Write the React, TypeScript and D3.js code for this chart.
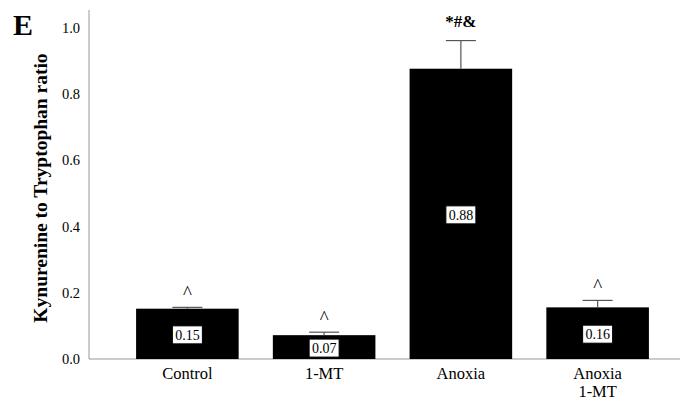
import React from "react";
import * as d3 from "d3";

const categories = ["Control", "1-MT", "Anoxia", "Anoxia\n1-MT"];
const values = [0.152, 0.072, 0.877, 0.156];
const errors = [0.004, 0.009, 0.085, 0.021];
const valueLabels = ["0.15", "0.07", "0.88", "0.16"];
const sigLabels = ["^", "^", "*#&", "^"];
const yTicks = [0.0, 0.2, 0.4, 0.6, 0.8, 1.0];

export default function App() {
  const W = 684, H = 400;
  const axisX = 89, baseY = 359;
  const y = d3.scaleLinear().domain([0, 1]).range([baseY, 28]);
  const x = d3.scaleBand().domain(categories).range([119, 666]).paddingInner(0.25).paddingOuter(0.125);
  const serif = "'Liberation Serif', 'Times New Roman', serif";
  return (
    <svg width={W} height={H} style={{ position: "absolute", left: 0, top: 0, background: "#fff" }} fontFamily={serif}>
      <text x={13} y={35} fontSize={30} fontWeight="bold">E</text>
      <text transform={`translate(47,188) rotate(-90)`} textAnchor="middle" fontSize={19.5} fontWeight="bold">Kynurenine to Tryptophan ratio</text>
      {yTicks.map(t => (
        <text key={t} x={80} y={y(t)} dy="0.35em" textAnchor="end" fontSize={14.5}>{t.toFixed(1)}</text>
      ))}
      <line x1={axisX} x2={axisX} y1={10} y2={baseY} stroke="#999" strokeWidth={1} />
      <line x1={axisX} x2={680} y1={baseY} y2={baseY} stroke="#999" strokeWidth={1} />
      {categories.map((c, i) => {
        const bx = x(c)!;
        const bw = x.bandwidth();
        const cx = bx + bw / 2;
        const top = y(values[i]);
        const et = y(values[i] + errors[i]);
        const mid = (top + baseY) / 2 + 1;
        const lines = c.split("\n");
        const caret = sigLabels[i] === "^";
        return (
          <g key={c}>
            <rect x={bx} y={top} width={bw} height={baseY - top} fill="#000" />
            <line x1={cx} x2={cx} y1={top} y2={et} stroke="#555" strokeWidth={1.2} />
            <line x1={cx - 15} x2={cx + 15} y1={et} y2={et} stroke="#555" strokeWidth={1.2} />
            <rect x={cx - 15} y={mid - 9} width={30} height={18} fill="#fff" stroke="#000" strokeWidth={1} />
            <text x={cx} y={mid} dy="0.35em" textAnchor="middle" fontSize={14}>{valueLabels[i]}</text>
            <text x={cx} y={caret ? et - 8 : et - 14} textAnchor="middle" fontSize={caret ? 19 : 17} fontWeight={caret ? "normal" : "bold"}>{sigLabels[i]}</text>
            {lines.map((l, j) => (
              <text key={j} x={cx} y={373 + j * 18} dy="0.35em" textAnchor="middle" fontSize={16.5}>{l}</text>
            ))}
          </g>
        );
      })}
    </svg>
  );
}
